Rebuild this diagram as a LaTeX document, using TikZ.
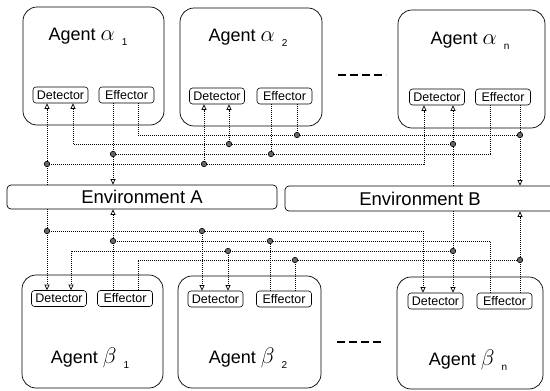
\documentclass[tikz,border=0pt]{standalone}
\usepackage{fontspec}
\setmainfont{Liberation Sans}
\usetikzlibrary{arrows.meta}
\newcommand{\agentname}[2]{Agent~\scalebox{1.3}{$#1$}\hspace{7pt}\raisebox{-5pt}{\fontsize{10}{10}\selectfont #2}}
\begin{document}
\begin{tikzpicture}[x=1pt,y=-1pt,
  agent/.style={draw,line width=0.7pt,rounded corners=14pt,inner sep=0pt},
  part/.style={draw,line width=0.6pt,rounded corners=3pt,inner sep=0pt,
    minimum width=55pt,minimum height=16pt,font=\fontsize{12.5}{13}\selectfont},
  envbox/.style={draw,line width=0.7pt,rounded corners=4pt,inner sep=0pt,
    minimum width=270pt,minimum height=24pt,font=\fontsize{18.5}{20}\selectfont},
  lbl/.style={inner sep=0pt,font=\fontsize{18}{20}\selectfont},
  wire/.style={line width=0.8pt,dash pattern=on 1pt off 1pt,black},
  arr/.style={-{Triangle[open,length=5.5pt,width=5pt,line width=0.7pt]}},
  jn/.style={circle,fill=black!60,draw=black,line width=0.6pt,inner sep=0pt,minimum size=5.5pt},
  etc/.style={line width=1.2pt,dash pattern=on 8pt off 4pt}
]
\useasboundingbox (0,0) rectangle (550,391);
\clip (0,0) rectangle (550,391);

% agents of group alpha
\node[agent,minimum width=141pt,minimum height=118pt] (A1) at (93.5,66) {};
\node[agent,minimum width=142pt,minimum height=118pt] (A2) at (251,67) {};
\node[agent,minimum width=147pt,minimum height=118pt] (An) at (471.5,69) {};
\node[lbl] (A1t) at (88,37) {\agentname{\alpha}{1}};
\node[lbl] (A2t) at (248,38) {\agentname{\alpha}{2}};
\node[lbl] (Ant) at (470,41) {\agentname{\alpha}{n}};
\node[part] (dA1) at (60.5,95) {Detector};
\node[part] (eA1) at (126.5,95) {Effector};
\node[part] (dA2) at (217,96) {Detector};
\node[part] (eA2) at (284.5,96) {Effector};
\node[part] (dAn) at (437,97) {Detector};
\node[part] (eAn) at (503,97) {Effector};

% agents of group beta
\node[agent,minimum width=141pt,minimum height=113pt] (B1) at (92.5,331.5) {};
\node[agent,minimum width=143pt,minimum height=112pt] (B2) at (249.5,332) {};
\node[agent,minimum width=146pt,minimum height=112pt] (Bn) at (470,333) {};
\node[lbl] (B1t) at (90,358) {\agentname{\beta}{1}};
\node[lbl] (B2t) at (248,358) {\agentname{\beta}{2}};
\node[lbl] (Bnt) at (468,360) {\agentname{\beta}{n}};
\node[part] (dB1) at (59,298.5) {Detector};
\node[part] (eB1) at (125,298.5) {Effector};
\node[part] (dB2) at (215.5,299) {Detector};
\node[part] (eB2) at (284,299) {Effector};
\node[part] (dBn) at (435.5,301) {Detector};
\node[part] (eBn) at (504.5,301) {Effector};

% environments
\node[envbox] (envA) at (142,197) {Environment A};
\node[envbox,minimum height=25pt] (envB) at (420,198.5) {Environment B};

% "and so on" marks
\draw[etc] (338,75) -- (386,75);
\draw[etc] (337,342) -- (383,342);

% ports on the detectors and effectors
\coordinate (pdA1a) at (dA1.south -| 47,0);
\coordinate (pdA1b) at (dA1.south -| 73,0);
\coordinate (peA1a) at (eA1.south -| 113,0);
\coordinate (peA1b) at (eA1.south -| 138,0);
\coordinate (pdA2a) at (dA2.south -| 204,0);
\coordinate (pdA2b) at (dA2.south -| 229,0);
\coordinate (peA2a) at (eA2.south -| 271,0);
\coordinate (peA2b) at (eA2.south -| 297,0);
\coordinate (pdAna) at (dAn.south -| 424,0);
\coordinate (pdAnb) at (dAn.south -| 453,0);
\coordinate (peAna) at (eAn.south -| 490,0);
\coordinate (peAnb) at (eAn.south -| 520,0);

\coordinate (pdB1a) at (dB1.north -| 47,0);
\coordinate (pdB1b) at (dB1.north -| 71,0);
\coordinate (peB1a) at (eB1.north -| 113,0);
\coordinate (peB1b) at (eB1.north -| 138,0);
\coordinate (pdB2a) at (dB2.north -| 202,0);
\coordinate (pdB2b) at (dB2.north -| 228,0);
\coordinate (peB2a) at (eB2.north -| 270,0);
\coordinate (peB2b) at (eB2.north -| 295,0);
\coordinate (pdBna) at (dBn.north -| 423,0);
\coordinate (pdBnb) at (dBn.north -| 453,0);
\coordinate (peBna) at (eBn.north -| 490,0);
\coordinate (peBnb) at (eBn.north -| 520,0);

% bus levels
\coordinate (hT1) at (0,135);
\coordinate (hT2) at (0,144);
\coordinate (hT3) at (0,154);
\coordinate (hT4) at (0,164);
\coordinate (hB1) at (0,231);
\coordinate (hB2) at (0,241);
\coordinate (hB3) at (0,251);
\coordinate (hB4) at (0,260);

% ---- upper wiring ----
% Environment A to first detector inputs
\draw[wire,arr] (envA.north -| pdA1a) -- (pdA1a);
\draw[wire,arr] (pdA1a |- hT4) -- (pdAna |- hT4) -- (pdAna);
\draw[wire,arr] (pdA2a |- hT4) -- (pdA2a);
% Environment B to second detector inputs
\draw[wire,arr] (envB.north -| pdAnb) -- (pdAnb);
\draw[wire,arr] (pdAnb |- hT2) -- (pdA1b |- hT2) -- (pdA1b);
\draw[wire,arr] (pdA2b |- hT2) -- (pdA2b);
% first effector outputs to Environment A
\draw[wire,arr] (peA1a) -- (envA.north -| peA1a);
\draw[wire] (peAna) -- (peAna |- hT3) -- (peA1a |- hT3);
\draw[wire] (peA2a) -- (peA2a |- hT3);
% second effector outputs to Environment B
\draw[wire,arr] (peAnb) -- (envB.north -| peAnb);
\draw[wire] (peA1b) -- (peA1b |- hT1) -- (peAnb |- hT1);
\draw[wire] (peA2b) -- (peA2b |- hT1);

% ---- lower wiring ----
% Environment A to first detector inputs
\draw[wire,arr] (envA.south -| pdB1a) -- (pdB1a);
\draw[wire,arr] (pdB1a |- hB1) -- (pdBna |- hB1) -- (pdBna);
\draw[wire,arr] (pdB2a |- hB1) -- (pdB2a);
% first effector outputs to Environment A
\draw[wire,arr] (peB1a) -- (envA.south -| peB1a);
\draw[wire] (peBna) -- (peBna |- hB2) -- (peB1a |- hB2);
\draw[wire] (peB2a) -- (peB2a |- hB2);
% Environment B to second detector inputs
\draw[wire,arr] (envB.south -| pdBnb) -- (pdBnb);
\draw[wire,arr] (pdBnb |- hB3) -- (pdB1b |- hB3) -- (pdB1b);
\draw[wire,arr] (pdB2b |- hB3) -- (pdB2b);
% second effector outputs to Environment B
\draw[wire,arr] (peBnb) -- (envB.south -| peBnb);
\draw[wire] (peB1b) -- (peB1b |- hB4) -- (peBnb |- hB4);
\draw[wire] (peB2b) -- (peB2b |- hB4);

% junction dots
\foreach \p in {pdA1a |- hT4, pdA2a |- hT4, pdAnb |- hT2, pdA2b |- hT2,
                peA1a |- hT3, peA2a |- hT3, peAnb |- hT1, peA2b |- hT1,
                pdB1a |- hB1, pdB2a |- hB1, peB1a |- hB2, peB2a |- hB2,
                pdBnb |- hB3, pdB2b |- hB3, peBnb |- hB4, peB2b |- hB4}
  \node[jn] at (\p) {};
\end{tikzpicture}
\end{document}
